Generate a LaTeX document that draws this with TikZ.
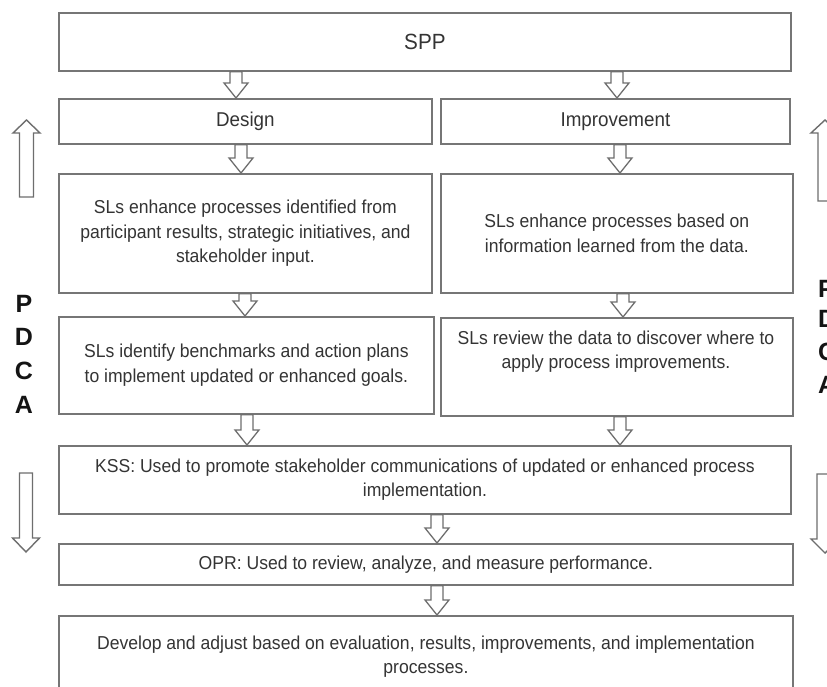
\documentclass[tikz,border=0pt]{standalone}
\usepackage{fontspec}
\setmainfont{Liberation Sans}
\newfontfamily\narrowsans{Liberation Sans}[FakeStretch=0.94]
\usetikzlibrary{calc}
\definecolor{boxline}{RGB}{118,118,118}
\definecolor{arrowline}{RGB}{110,110,110}
\definecolor{txt}{RGB}{52,52,52}
\definecolor{letter}{RGB}{20,20,20}
\tikzset{
  box/.style={draw=boxline, line width=1.8pt, fill=white, anchor=north west,
    inner sep=0pt, text=txt, align=center, font=\narrowsans\fontsize{18.7}{24.5}\selectfont},
  head/.style={box, font=\narrowsans\fontsize{20}{24}\selectfont},
  flow/.style={draw=arrowline, line width=1.3pt, fill=white, line join=miter},
  side/.style={draw=arrowline, line width=1.4pt, fill=white, line join=miter},
  pdca/.style={text=letter, inner sep=0pt, font=\fontsize{25}{25}\bfseries\selectfont}
}
% hollow block arrow pointing down, from the bottom of #1 to the top of #2, at x = #3
\newcommand\flowdown[3]{%
  \draw[flow] let \p1=(#1.south), \p2=(#2.north) in
    ({#3pt-6pt},{\y1}) -- ({#3pt+6pt},{\y1}) -- ({#3pt+6pt},{\y2+15pt})
    -- ({#3pt+12pt},{\y2+15pt}) -- ({#3pt},{\y2}) -- ({#3pt-12pt},{\y2+15pt})
    -- ({#3pt-6pt},{\y2+15pt}) -- cycle;}
\begin{document}
\begin{tikzpicture}[x=1pt,y=-1pt]
\useasboundingbox (0,0) rectangle (827,687);
\clip (0,0) rectangle (827,687);
\fill[white] (0,0) rectangle (827,687);

% boxes
\node[box, minimum width=732pt, minimum height=58pt, font=\narrowsans\fontsize{22}{24}\selectfont] (spp) at (58,12) {SPP};
\node[head, minimum width=373pt, minimum height=45pt] (design) at (58,98) {Design};
\node[head, minimum width=349pt, minimum height=45pt] (impr) at (440,98) {Improvement};
\node[box, minimum width=373pt, minimum height=119pt] (sl1) at (58,173)
  {SLs enhance processes identified from\\participant results, strategic initiatives, and\\stakeholder input.};
\node[box, minimum width=352pt, minimum height=119pt] (sl2) at (440,173)
  {SLs enhance processes based on\\information learned from the data.};
\node[box, minimum width=375pt, minimum height=97pt] (sl3) at (58,316)
  {SLs identify benchmarks and action plans\\to implement updated or enhanced goals.};
\node[box, minimum width=352pt, minimum height=98pt] (sl4) at (440,317) {};
\node[box, draw=none, fill=none, anchor=north] (sl4text) at (616,330)
  {SLs review the data to discover where to\\apply process improvements.};
\node[box, minimum width=732pt, minimum height=68pt] (kss) at (58,445)
  {KSS: Used to promote stakeholder communications of updated or enhanced process\\implementation.};
\node[box, minimum width=734pt, minimum height=41pt] (opr) at (58,543)
  {OPR: Used to review, analyze, and measure performance.};
\node[box, minimum width=734pt, minimum height=82pt] (dev) at (58,615)
  {Develop and adjust based on evaluation, results, improvements, and implementation\\processes.};

% flow arrows between boxes
\flowdown{spp}{design}{236}
\flowdown{spp}{impr}{617}
\flowdown{design}{sl1}{241}
\flowdown{impr}{sl2}{620}
\flowdown{sl1}{sl3}{245}
\flowdown{sl2}{sl4}{623}
\flowdown{sl3}{kss}{247}
\flowdown{sl4}{kss}{620}
\flowdown{kss}{opr}{437}
\flowdown{opr}{dev}{437}

% cycle arrows on both sides
\draw[side] (19.5,197) -- (19.5,133) -- (13,133) -- (26.5,120) -- (40,133) -- (33.5,133) -- (33.5,197) -- cycle;
\draw[side] (19.5,473) -- (19.5,538) -- (12.5,538) -- (26,552) -- (39.5,538) -- (32.5,538) -- (32.5,473) -- cycle;
\draw[side] (818,201) -- (818,133) -- (811,133) -- (825,120) -- (839,133) -- (832,133) -- (832,201) -- cycle;
\draw[side] (817,474) -- (817,539) -- (811,539) -- (825,553) -- (839,539) -- (831,539) -- (831,474) -- cycle;

% PDCA letters
\node[pdca, anchor=base] (lp) at (24,312) {P};
\node[pdca, anchor=base] (ld) at (24,345) {D};
\node[pdca, anchor=base] (lc) at (24,379) {C};
\node[pdca, anchor=base] (la) at (24,413) {A};
\node[pdca, anchor=base west] (rp) at (818,297) {P};
\node[pdca, anchor=base west] (rd) at (818,327) {D};
\node[pdca, anchor=base west] (rc) at (818,360) {C};
\node[pdca, anchor=base west] (ra) at (818,393) {A};
\end{tikzpicture}
\end{document}
